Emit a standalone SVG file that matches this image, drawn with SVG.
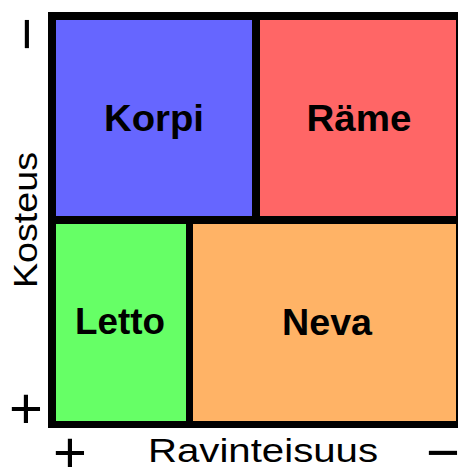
<svg xmlns="http://www.w3.org/2000/svg" width="460" height="468" viewBox="0 0 460 468">
  <style>
    .cell-label { font-family: "Liberation Sans", Arial, sans-serif; font-weight: bold; font-size: 36px; fill: #000; text-anchor: middle; }
    .axis-label { font-family: "Liberation Sans", Arial, sans-serif; font-size: 33px; fill: #000; text-anchor: middle; }
    .sign { font-family: "Liberation Sans", Arial, sans-serif; font-size: 58px; fill: #000; text-anchor: middle; }
  </style>
  <rect width="460" height="468" fill="#ffffff"/>

  <!-- frame: black backing shows through as the grid lines -->
  <rect id="frame" x="48" y="12" width="410" height="416" fill="#000000"/>

  <g id="korpi">
    <rect x="56" y="20" width="196" height="196" fill="#6666ff"/>
    <text class="cell-label" x="154" y="131" textLength="100" lengthAdjust="spacingAndGlyphs">Korpi</text>
  </g>
  <g id="rame">
    <rect x="260" y="20" width="196" height="196" fill="#ff6666"/>
    <text class="cell-label" x="359" y="131" textLength="105" lengthAdjust="spacingAndGlyphs">Räme</text>
  </g>
  <g id="letto">
    <rect x="56" y="224" width="130" height="197" fill="#66ff66"/>
    <text class="cell-label" x="120" y="334" textLength="90" lengthAdjust="spacingAndGlyphs">Letto</text>
  </g>
  <g id="neva">
    <rect x="193" y="224" width="263" height="197" fill="#ffb366"/>
    <text class="cell-label" x="327" y="335" textLength="90" lengthAdjust="spacingAndGlyphs">Neva</text>
  </g>

  <!-- vertical axis: moisture -->
  <g id="axis-kosteus">
    <text class="axis-label" transform="translate(37,220) rotate(-90)" x="0" y="0" textLength="136" lengthAdjust="spacingAndGlyphs">Kosteus</text>
    <text class="sign" transform="translate(25,34) rotate(-90)" x="0" y="20.5">−</text>
    <text class="sign" x="26" y="427.5">+</text>
  </g>

  <!-- horizontal axis: nutrient level -->
  <g id="axis-ravinteisuus">
    <text class="axis-label" x="263" y="462" textLength="230" lengthAdjust="spacingAndGlyphs">Ravinteisuus</text>
    <text class="sign" x="70" y="471.5">+</text>
    <text class="sign" x="443" y="471.5">−</text>
  </g>
</svg>
